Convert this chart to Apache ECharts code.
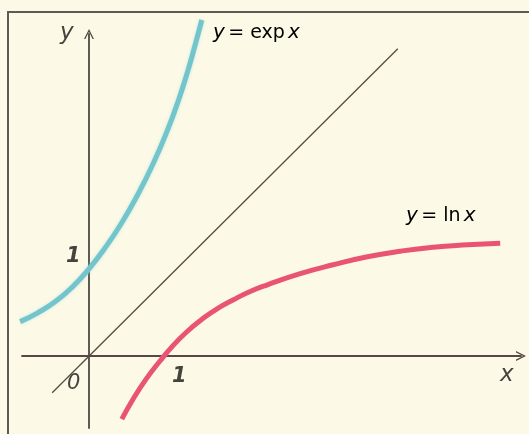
<!DOCTYPE html>
<html>
<head>
<meta charset="utf-8">
<script src="https://cdn.jsdelivr.net/npm/echarts@6/dist/echarts.min.js"></script>
<style>
html,body{margin:0;padding:0;background:#fcf9e6;}
#c{width:529px;height:434px;}
</style>
</head>
<body>
<div id="c"></div>
<script>
// Points (x, y in graph units; 1 unit ≈ 80 px)
const expPoints = [
  [-0.86,0.43],[-0.64,0.54],[-0.42,0.68],[-0.21,0.86],[0.00,1.09],[0.20,1.35],[0.40,1.65],
  [0.60,2.00],[0.80,2.40],[0.98,2.82],[1.12,3.20],[1.24,3.58],[1.33,3.90],[1.41,4.20]
];
const lnPoints = [
  [0.41,-0.79],[0.55,-0.54],[0.72,-0.28],[0.89,-0.06],[1.05,0.13],[1.22,0.30],[1.40,0.45],
  [1.60,0.59],[1.80,0.70],[2.00,0.80],[2.23,0.89],[2.64,1.03],[3.05,1.14],[3.48,1.24],
  [3.89,1.31],[4.30,1.36],[4.73,1.39],[5.14,1.41]
];
const identityPoints = [[-0.46,-0.46],[3.86,3.84]];
const xRange = [-0.8375, 5.4];
const yRange = [-0.9, 4.025];
const tickLabels = ['1','1','0'];
const seriesNames = ['y = exp x','y = ln x'];

const chart = echarts.init(document.getElementById('c'));
const ink = '#45433d';
const arrow = 'path://M0,10 L5,0 L10,10 L8.6,10 L5,2.8 L1.4,10 Z';
const font = {fontFamily:'DejaVu Sans', fontStyle:'italic', fill:ink};
const rich = {
  i:{fontFamily:'DejaVu Sans', fontStyle:'italic', fontSize:20, color:ink},
  r:{fontFamily:'DejaVu Sans', fontSize:19, color:ink}
};

chart.setOption({
  backgroundColor:'#fcf9e6',
  animation:false,
  grid:{left:22, right:8, top:34, bottom:6},
  xAxis:{type:'value', min:xRange[0], max:xRange[1],
    axisLine:{onZero:true, symbol:['none',arrow], symbolSize:[10,12],
      lineStyle:{color:'#574846', width:1.8}},
    axisTick:{show:false}, axisLabel:{show:false}, splitLine:{show:false}},
  yAxis:{type:'value', min:yRange[0], max:yRange[1],
    axisLine:{onZero:true, symbol:['none',arrow], symbolSize:[10,12],
      lineStyle:{color:'#4a4a43', width:1.8}},
    axisTick:{show:false}, axisLabel:{show:false}, splitLine:{show:false}},
  series:[
    {type:'line', data:identityPoints, showSymbol:false, clip:false,
      lineStyle:{color:'#5a4a44', width:1.3}, z:3},
    {name:seriesNames[0], type:'line', data:expPoints, smooth:0.5, showSymbol:false, clip:false,
      lineStyle:{color:'#74c4cc', width:5, shadowColor:'rgba(140,220,230,0.6)', shadowBlur:3}, z:4},
    {name:seriesNames[1], type:'line', data:lnPoints, smooth:0.5, showSymbol:false, clip:false,
      lineStyle:{color:'#ea5474', width:5}, z:4}
  ],
  graphic:[
    {type:'rect', shape:{x:8, y:12, width:560, height:460}, style:{fill:'none', stroke:'#5b5a55', lineWidth:2}, silent:true},
    {type:'text', left:60, top:22, style:Object.assign({text:'y', fontSize:23}, font)},
    {type:'text', left:500, top:364, style:Object.assign({text:'x', fontSize:23}, font)},
    {type:'text', left:66, top:246, style:Object.assign({text:tickLabels[1], fontSize:21, fontWeight:'bold'}, font)},
    {type:'text', left:172, top:366, style:Object.assign({text:tickLabels[0], fontSize:21, fontWeight:'bold'}, font)},
    {type:'text', left:67, top:373, style:Object.assign({text:tickLabels[2], fontSize:21}, font)},
    {type:'text', left:213, top:23, style:{text:'{i|y} {r|= exp} {i|x}', rich:rich}},
    {type:'text', left:406, top:206, style:{text:'{i|y} {r|= ln} {i|x}', rich:rich}}
  ]
});
</script>
</body>
</html>
